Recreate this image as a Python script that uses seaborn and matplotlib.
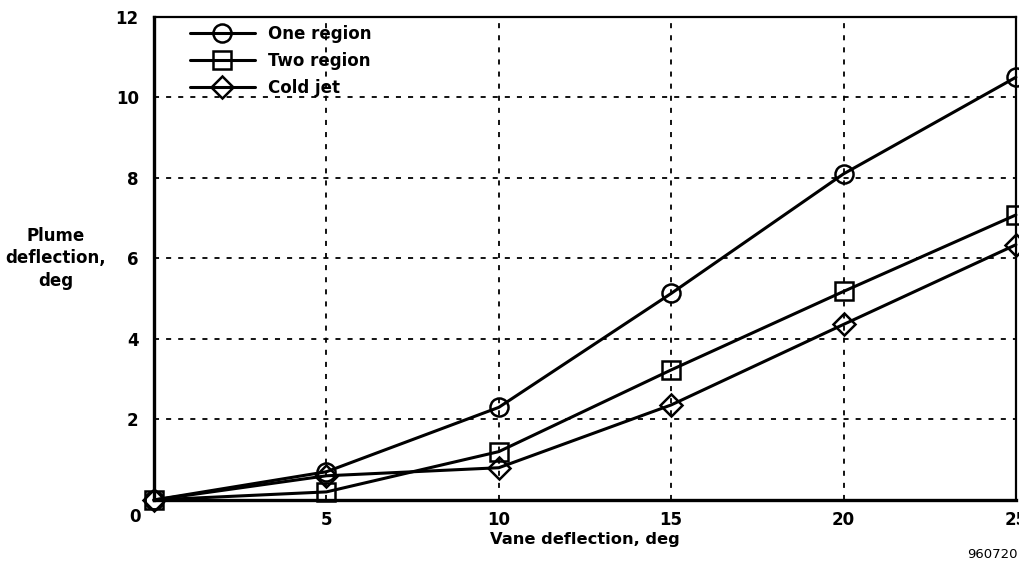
"""Plume deflection vs. vane deflection, three model cases."""

import matplotlib
matplotlib.use("Agg")
import matplotlib.pyplot as plt
import pandas as pd
import seaborn as sns

# values
vane_deg = [0, 5, 10, 15, 20, 25]
one_region = [0.0, 0.7, 2.3, 5.13, 8.1, 10.5]
two_region = [0.0, 0.2, 1.2, 3.23, 5.18, 7.08]
cold_jet = [0.0, 0.6, 0.8, 2.36, 4.36, 6.34]

series_names = ["One region", "Two region", "Cold jet"]
series_markers = ["o", "s", "D"]
x_ticks = [0, 5, 10, 15, 20, 25]
y_ticks = [0, 2, 4, 6, 8, 10, 12]

sns.set_style("white")
plt.rcParams["font.family"] = ["DejaVu Sans"]
plt.rcParams.update({
    "text.color": "black",
    "axes.labelcolor": "black",
    "xtick.color": "black",
    "ytick.color": "black",
})
FS = 12

data = pd.DataFrame({
    "vane": vane_deg * 3,
    "plume": one_region + two_region + cold_jet,
    "case": [n for n in series_names for _ in vane_deg],
})

fig = plt.figure(figsize=(10.2, 5.63), dpi=100)
ax = fig.add_axes([0.151, 0.112, 0.845, 0.858])

for name, marker in zip(series_names, series_markers):
    ms = 11 if marker == "D" else 13
    sns.lineplot(
        data=data[data["case"] == name], x="vane", y="plume", ax=ax,
        color="black", linewidth=2.2, marker=marker, markersize=ms,
        markerfacecolor="none", markeredgecolor="black", markeredgewidth=1.8,
        label=name, clip_on=False, zorder=3,
    )

ax.set_xlim(0, 25)
ax.set_ylim(0, 12)
ax.set_xticks(x_ticks)
ax.set_yticks(y_ticks)
ax.set_xticklabels([""] + [str(t) for t in x_ticks[1:]])
ax.set_yticklabels([""] + [str(t) for t in y_ticks[1:]])
ax.tick_params(axis="both", direction="in", length=4, width=1.2, labelsize=FS)
ax.tick_params(axis="x", pad=8)
ax.tick_params(axis="y", pad=11)
for lbl in ax.get_xticklabels() + ax.get_yticklabels():
    lbl.set_fontweight("bold")
ax.text(-0.022, -0.035, "0", transform=ax.transAxes, ha="center", va="center",
        fontsize=FS, fontweight="bold")

ax.grid(True, color="black", linewidth=1.3, linestyle=(0, (2.8, 3.9)))
ax.set_axisbelow(True)
for side, lw in (("left", 2.4), ("bottom", 2.4), ("top", 1.6), ("right", 1.6)):
    ax.spines[side].set_visible(True)
    ax.spines[side].set_color("black")
    ax.spines[side].set_linewidth(lw)

ax.set_xlabel("Vane deflection, deg", fontsize=11.7, fontweight="bold", labelpad=2)
ax.set_ylabel("Plume\ndeflection,\ndeg", fontsize=FS, fontweight="bold",
              rotation=0, ha="center", va="center", linespacing=1.3)
ax.yaxis.set_label_coords(-0.114, 0.5)

leg = ax.legend(loc="upper left", bbox_to_anchor=(0.034, 0.998), frameon=False,
                handlelength=3.9, handletextpad=0.8, labelspacing=0.56,
                fontsize=FS, borderaxespad=0.0)
for txt in leg.get_texts():
    txt.set_fontweight("bold")

fig.text(0.973, 0.015, "960720", ha="center", va="center", fontsize=9.5,
         fontweight="normal")

fig.savefig("out.png", dpi=100, facecolor="white")
